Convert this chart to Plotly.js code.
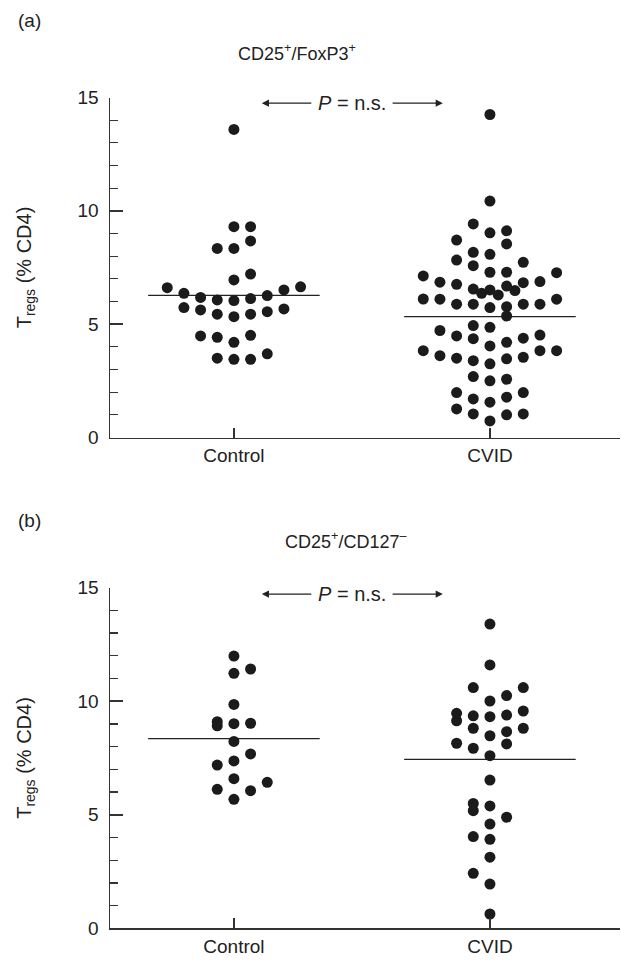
<!DOCTYPE html>
<html>
<head>
<meta charset="utf-8">
<script src="https://cdn.plot.ly/plotly-3.0.1.min.js"></script>
<style>
html,body{margin:0;padding:0;background:#fff;}
#chart{width:621px;height:964px;}
</style>
</head>
<body>
<div id="chart"></div>
<script>
// ---- data ----
var groups = ["Control", "CVID"];
var yTicks = [0, 5, 10, 15];

// Panel (a) CD25+/FoxP3+
var ctrlA_vals = [13.59,9.30,9.30,8.67,8.34,8.34,7.21,6.95,6.61,6.65,6.36,6.51,6.18,6.07,6.04,6.13,6.26,5.73,5.63,5.44,5.33,5.44,5.55,5.67,4.48,4.42,4.20,4.51,3.50,3.45,3.45,3.69];
var ctrlA_cols = [0,0,1,1,-1,0,1,0,-4,4,-3,3,-2,-1,0,1,2,-3,-2,-1,0,1,2,3,-2,-1,0,1,-1,0,1,2];
var cvidA_vals = [14.25,10.43,9.42,9.03,9.12,8.71,8.54,8.17,8.08,7.83,7.58,7.73,7.29,7.29,7.27,7.13,
  6.85,6.76,6.55,6.36,6.51,6.29,6.68,6.48,6.83,6.88,
  6.11,6.10,5.88,5.88,5.73,5.77,5.88,5.88,6.10,
  5.36,4.94,4.86,
  4.72,4.48,4.36,4.04,4.20,4.38,4.52,
  3.83,3.61,3.50,3.39,3.25,3.47,3.54,3.83,3.83,
  2.69,2.50,2.57,
  1.98,1.70,1.56,1.78,1.98,
  1.26,1.04,0.73,1.00,1.04];
var cvidA_cols = [0,0,-1,0,1,-2,1,-1,0,-2,-1,2,0,1,4,-4,
  -3,-2,-1,-0.5,0,0.5,1,1.5,2,3,
  -4,-3,-2,-1,0,1,2,3,4,
  1,-1,0,
  -3,-2,-1,0,1,2,3,
  -4,-3,-2,-1,0,1,2,3,4,
  -1,0,1,
  -2,-1,0,1,2,
  -2,-1,0,1,2];
var mediansA = [6.27, 5.33];

// Panel (b) CD25+/CD127-
var ctrlB_vals = [11.99,11.23,11.42,9.86,9.10,8.92,9.01,9.03,8.23,7.68,7.37,7.19,6.59,6.43,6.12,6.06,5.68];
var ctrlB_cols = [0,0,1,0,-1,-1,0,1,0,1,0,-1,0,2,-1,1,0];
var cvidB_vals = [13.40,11.60,10.60,10.60,10.25,10.01,9.47,9.14,9.36,9.32,9.39,9.57,8.81,8.48,8.66,8.81,8.15,7.93,8.12,7.60,6.53,5.50,5.18,5.39,4.89,4.59,4.04,3.92,3.13,2.42,1.95,0.63];
var cvidB_cols = [0,0,-1,2,1,0,-2,-2,-1,0,1,2,-1,0,1,2,-2,-1,1,0,0,-1,-1,0,1,0,-1,0,0,-1,0,0];
var mediansB = [8.35, 7.44];

// ---- drawing ----
var STEP = 0.0651;      // horizontal spacing of dot columns (x units)
var HALF = 0.335;       // half width of median line
var dotColor = "#1b1b1b";
var FONT = "Liberation Sans, Arial, Helvetica, sans-serif";

function dots(g, vals, cols, xa, ya) {
  return {
    type: "scatter", mode: "markers",
    x: cols.map(function(c){ return g + c*STEP; }),
    y: vals,
    xaxis: xa, yaxis: ya,
    marker: {size: 11, color: dotColor, line: {width: 0}},
    hoverinfo: "y", showlegend: false
  };
}
function median(g, m, xa, ya) {
  return {
    type: "scatter", mode: "lines",
    x: [g - HALF, g + HALF], y: [m, m],
    xaxis: xa, yaxis: ya,
    line: {color: "#222", width: 1.3},
    hoverinfo: "skip", showlegend: false
  };
}

var traces = [
  median(0, mediansA[0], "x", "y"), median(1, mediansA[1], "x", "y"),
  dots(0, ctrlA_vals, ctrlA_cols, "x", "y"),
  dots(1, cvidA_vals, cvidA_cols, "x", "y"),
  median(0, mediansB[0], "x2", "y2"), median(1, mediansB[1], "x2", "y2"),
  dots(0, ctrlB_vals, ctrlB_cols, "x2", "y2"),
  dots(1, cvidB_vals, cvidB_cols, "x2", "y2")
];

function xAxis(anchor) {
  return {
    domain: [110/621, 620/621], range: [-0.484, 1.508], anchor: anchor,
    tickmode: "array", tickvals: [0, 1], ticktext: groups,
    ticks: "inside", ticklen: 10, tickwidth: 1.5, tickcolor: "#333",
    showline: true, linecolor: "#333", linewidth: 1.5,
    showgrid: false, zeroline: false,
    tickfont: {family: FONT, size: 19, color: "#222"}
  };
}
function yAxis(domain, anchor) {
  return {
    domain: domain, range: [0, 15], anchor: anchor,
    tickmode: "array", tickvals: yTicks,
    ticks: "inside", ticklen: 13, tickwidth: 1.5, tickcolor: "#333",
    ticklabelstandoff: 6,
    minor: {dtick: 1, tick0: 0, ticks: "inside", ticklen: 8, tickwidth: 1.3, tickcolor: "#333", showgrid: false},
    showline: true, linecolor: "#333", linewidth: 1.5,
    showgrid: false, zeroline: false,
    tickfont: {family: FONT, size: 19, color: "#222"},
    title: {text: "T<sub>regs</sub> (% CD4)", font: {family: FONT, size: 20, color: "#222"}, standoff: 40}
  };
}

function arrowPair(xa, ya, yv) {
  var common = {xref: xa, yref: ya, axref: xa, ayref: ya, text: "", showarrow: true,
    arrowhead: 2, arrowsize: 1.1, arrowwidth: 1.3, arrowcolor: "#222", y: yv, ay: yv};
  var l = Object.assign({}, common, {x: 0.109, ax: 0.308});
  var r = Object.assign({}, common, {x: 0.816, ax: 0.614});
  var t = {xref: xa, yref: ya, x: 0.461, y: yv, showarrow: false,
    text: "<i>P</i> = n.s.", font: {family: FONT, size: 20, color: "#222"}};
  return [l, r, t];
}

var annotations = [
  {xref: "paper", yref: "paper", x: 16/621, y: 1 - 20/964, xanchor: "left", yanchor: "middle",
   text: "(a)", showarrow: false, font: {family: FONT, size: 19, color: "#222"}},
  {xref: "paper", yref: "paper", x: 16/621, y: 1 - 520/964, xanchor: "left", yanchor: "middle",
   text: "(b)", showarrow: false, font: {family: FONT, size: 19, color: "#222"}},
  {xref: "paper", yref: "paper", x: 297/621, y: 1 - 52/964, xanchor: "center", yanchor: "middle",
   text: "CD25<sup>+</sup>/FoxP3<sup>+</sup>", showarrow: false, font: {family: FONT, size: 18, color: "#222"}},
  {xref: "paper", yref: "paper", x: 345/621, y: 1 - 540/964, xanchor: "center", yanchor: "middle",
   text: "CD25<sup>+</sup>/CD127<sup>\u2013</sup>", showarrow: false, font: {family: FONT, size: 18, color: "#222"}}
].concat(arrowPair("x", "y", 14.75)).concat(arrowPair("x2", "y2", 14.72));

var layout = {
  width: 621, height: 964,
  margin: {l: 0, r: 0, t: 0, b: 0},
  paper_bgcolor: "#fff", plot_bgcolor: "#fff",
  showlegend: false,
  xaxis: xAxis("y"),
  yaxis: yAxis([(964-437.5)/964, (964-97.5)/964], "x"),
  xaxis2: xAxis("y2"),
  yaxis2: yAxis([(964-928.3)/964, (964-587.7)/964], "x2"),
  annotations: annotations
};

Plotly.newPlot("chart", traces, layout, {displayModeBar: false, staticPlot: true});
</script>
</body>
</html>
